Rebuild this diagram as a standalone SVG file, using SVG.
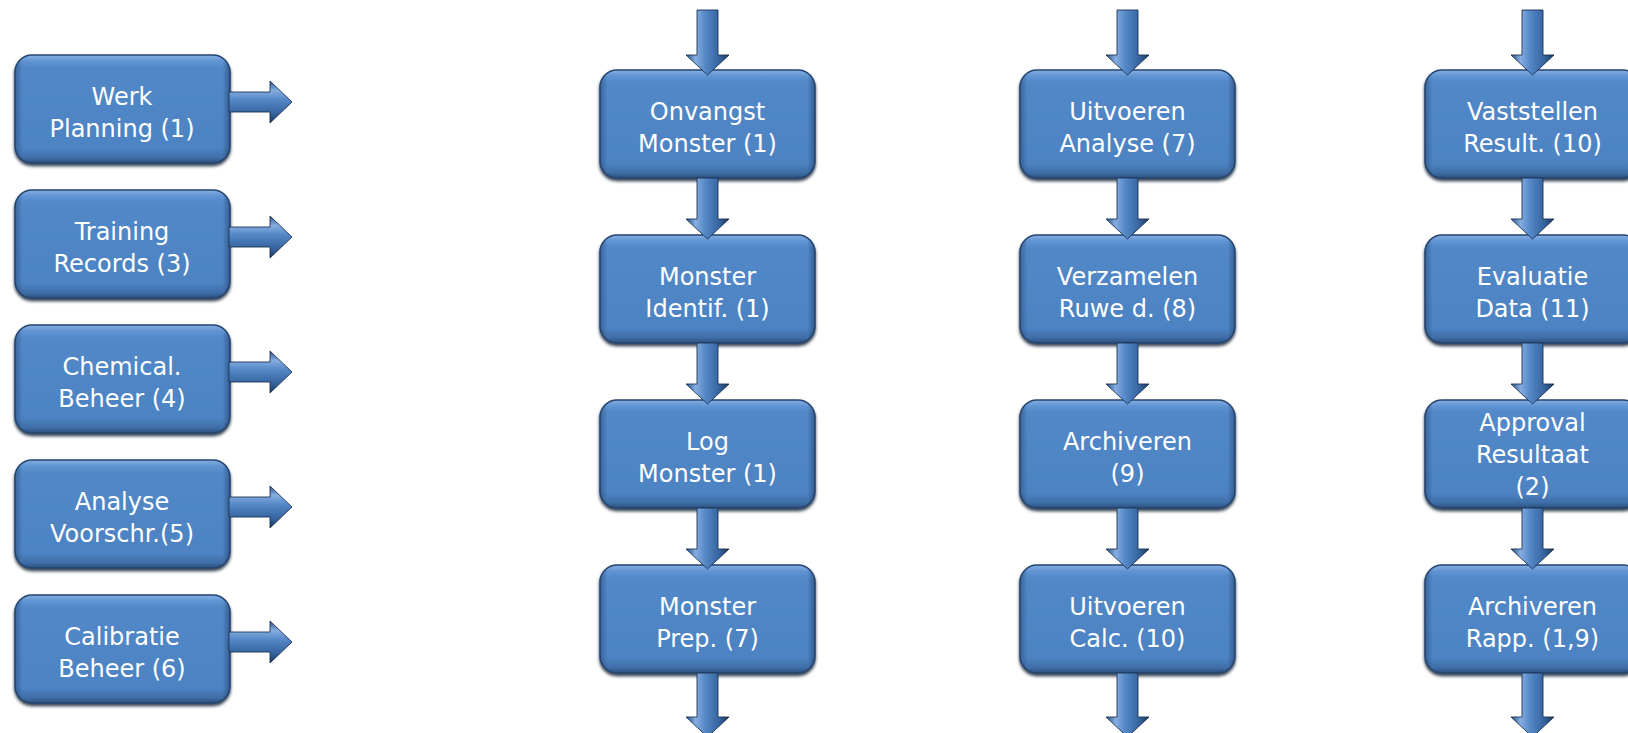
<svg xmlns="http://www.w3.org/2000/svg" width="1628" height="733" viewBox="0 0 1628 733">
<defs>
<linearGradient id="boxV" x1="0" y1="0" x2="0" y2="1">
<stop offset="0" stop-color="#86aee2"/>
<stop offset="0.06" stop-color="#5f93d2"/>
<stop offset="0.12" stop-color="#5288c8"/>
<stop offset="0.86" stop-color="#4d83c3"/>
<stop offset="0.95" stop-color="#3f6ea8"/>
<stop offset="1" stop-color="#2b4f7e"/>
</linearGradient>
<linearGradient id="boxH" x1="0" y1="0" x2="1" y2="0">
<stop offset="0" stop-color="#1d3b63" stop-opacity="0.45"/>
<stop offset="0.035" stop-color="#1d3b63" stop-opacity="0"/>
<stop offset="0.965" stop-color="#1d3b63" stop-opacity="0"/>
<stop offset="1" stop-color="#1d3b63" stop-opacity="0.55"/>
</linearGradient>
<linearGradient id="arrV" x1="0" y1="0" x2="1" y2="0">
<stop offset="0" stop-color="#2a5186"/>
<stop offset="0.22" stop-color="#86ade0"/>
<stop offset="0.45" stop-color="#5487c6"/>
<stop offset="0.78" stop-color="#35639e"/>
<stop offset="1" stop-color="#1c3659"/>
</linearGradient>
<linearGradient id="arrH" x1="0" y1="0" x2="0" y2="1">
<stop offset="0" stop-color="#2a5186"/>
<stop offset="0.22" stop-color="#86ade0"/>
<stop offset="0.45" stop-color="#5487c6"/>
<stop offset="0.78" stop-color="#35639e"/>
<stop offset="1" stop-color="#1c3659"/>
</linearGradient>
<filter id="sh" x="-10%" y="-10%" width="120%" height="130%">
<feDropShadow dx="0" dy="2.5" stdDeviation="1.6" flood-color="#0a1c33" flood-opacity="0.85"/>
</filter>
</defs>
<style>
.bx{fill:url(#boxV);stroke:#27466f;stroke-width:1.5;filter:url(#sh)}
.bo{fill:url(#boxH);stroke:none}
.t{font-family:"DejaVu Sans","Liberation Sans",sans-serif;font-size:24px;fill:#ffffff;text-anchor:middle}
.av{fill:url(#arrV);stroke:#1a3354;stroke-width:0.9}
.ah{fill:url(#arrH);stroke:#1a3354;stroke-width:0.9}
</style>

<g id="nodes">
<g id="n-werk"><rect class="bx" x="15" y="55" width="215" height="108" rx="17"/><rect class="bo" x="15" y="55" width="215" height="108" rx="17"/><text class="t" x="122" y="105">Werk</text><text class="t" x="122" y="137">Planning (1)</text></g>
<g id="n-training"><rect class="bx" x="15" y="190" width="215" height="108" rx="17"/><rect class="bo" x="15" y="190" width="215" height="108" rx="17"/><text class="t" x="122" y="240">Training</text><text class="t" x="122" y="272">Records (3)</text></g>
<g id="n-chemical"><rect class="bx" x="15" y="325" width="215" height="108" rx="17"/><rect class="bo" x="15" y="325" width="215" height="108" rx="17"/><text class="t" x="122" y="375">Chemical.</text><text class="t" x="122" y="407">Beheer (4)</text></g>
<g id="n-analyse"><rect class="bx" x="15" y="460" width="215" height="108" rx="17"/><rect class="bo" x="15" y="460" width="215" height="108" rx="17"/><text class="t" x="122" y="510">Analyse</text><text class="t" x="122" y="542">Voorschr.(5)</text></g>
<g id="n-calibratie"><rect class="bx" x="15" y="595" width="215" height="108" rx="17"/><rect class="bo" x="15" y="595" width="215" height="108" rx="17"/><text class="t" x="122" y="645">Calibratie</text><text class="t" x="122" y="677">Beheer (6)</text></g>

<g id="n-onvangst"><rect class="bx" x="600" y="70" width="215" height="108" rx="17"/><rect class="bo" x="600" y="70" width="215" height="108" rx="17"/><text class="t" x="707.5" y="120">Onvangst</text><text class="t" x="707.5" y="152">Monster (1)</text></g>
<g id="n-identif"><rect class="bx" x="600" y="235" width="215" height="108" rx="17"/><rect class="bo" x="600" y="235" width="215" height="108" rx="17"/><text class="t" x="707.5" y="285">Monster</text><text class="t" x="707.5" y="317">Identif. (1)</text></g>
<g id="n-log"><rect class="bx" x="600" y="400" width="215" height="108" rx="17"/><rect class="bo" x="600" y="400" width="215" height="108" rx="17"/><text class="t" x="707.5" y="450">Log</text><text class="t" x="707.5" y="482">Monster (1)</text></g>
<g id="n-prep"><rect class="bx" x="600" y="565" width="215" height="108" rx="17"/><rect class="bo" x="600" y="565" width="215" height="108" rx="17"/><text class="t" x="707.5" y="615">Monster</text><text class="t" x="707.5" y="647">Prep. (7)</text></g>

<g id="n-uitvoeren-analyse"><rect class="bx" x="1020" y="70" width="215" height="108" rx="17"/><rect class="bo" x="1020" y="70" width="215" height="108" rx="17"/><text class="t" x="1127.5" y="120">Uitvoeren</text><text class="t" x="1127.5" y="152">Analyse (7)</text></g>
<g id="n-verzamelen"><rect class="bx" x="1020" y="235" width="215" height="108" rx="17"/><rect class="bo" x="1020" y="235" width="215" height="108" rx="17"/><text class="t" x="1127.5" y="285">Verzamelen</text><text class="t" x="1127.5" y="317">Ruwe d. (8)</text></g>
<g id="n-archiveren"><rect class="bx" x="1020" y="400" width="215" height="108" rx="17"/><rect class="bo" x="1020" y="400" width="215" height="108" rx="17"/><text class="t" x="1127.5" y="450">Archiveren</text><text class="t" x="1127.5" y="482">(9)</text></g>
<g id="n-calc"><rect class="bx" x="1020" y="565" width="215" height="108" rx="17"/><rect class="bo" x="1020" y="565" width="215" height="108" rx="17"/><text class="t" x="1127.5" y="615">Uitvoeren</text><text class="t" x="1127.5" y="647">Calc. (10)</text></g>

<g id="n-vaststellen"><rect class="bx" x="1425" y="70" width="215" height="108" rx="17"/><rect class="bo" x="1425" y="70" width="215" height="108" rx="17"/><text class="t" x="1532.5" y="120">Vaststellen</text><text class="t" x="1532.5" y="152">Result. (10)</text></g>
<g id="n-evaluatie"><rect class="bx" x="1425" y="235" width="215" height="108" rx="17"/><rect class="bo" x="1425" y="235" width="215" height="108" rx="17"/><text class="t" x="1532.5" y="285">Evaluatie</text><text class="t" x="1532.5" y="317">Data (11)</text></g>
<g id="n-approval"><rect class="bx" x="1425" y="400" width="215" height="108" rx="17"/><rect class="bo" x="1425" y="400" width="215" height="108" rx="17"/><text class="t" x="1532.5" y="431">Approval</text><text class="t" x="1532.5" y="463">Resultaat</text><text class="t" x="1532.5" y="495">(2)</text></g>
<g id="n-archiveren-rapp"><rect class="bx" x="1425" y="565" width="215" height="108" rx="17"/><rect class="bo" x="1425" y="565" width="215" height="108" rx="17"/><text class="t" x="1532.5" y="615">Archiveren</text><text class="t" x="1532.5" y="647">Rapp. (1,9)</text></g>
</g>

<g id="connectors">
<polygon class="ah" points="229,92 270,92 270,81 292,102 270,123 270,112 229,112"/>
<polygon class="ah" points="229,227 270,227 270,216 292,237 270,258 270,247 229,247"/>
<polygon class="ah" points="229,362 270,362 270,351 292,372 270,393 270,382 229,382"/>
<polygon class="ah" points="229,497 270,497 270,486 292,507 270,528 270,517 229,517"/>
<polygon class="ah" points="229,632 270,632 270,621 292,642 270,663 270,652 229,652"/>

<polygon class="av" points="697,10 718,10 718,55 729,55 707.5,75 686,55 697,55"/>
<polygon class="av" points="697,178 718,178 718,219 729,219 707.5,239 686,219 697,219"/>
<polygon class="av" points="697,343 718,343 718,384 729,384 707.5,404 686,384 697,384"/>
<polygon class="av" points="697,508 718,508 718,549 729,549 707.5,569 686,549 697,549"/>
<polygon class="av" points="697,673 718,673 718,717 729,717 707.5,737 686,717 697,717"/>

<polygon class="av" points="1117,10 1138,10 1138,55 1149,55 1127.5,75 1106,55 1117,55"/>
<polygon class="av" points="1117,178 1138,178 1138,219 1149,219 1127.5,239 1106,219 1117,219"/>
<polygon class="av" points="1117,343 1138,343 1138,384 1149,384 1127.5,404 1106,384 1117,384"/>
<polygon class="av" points="1117,508 1138,508 1138,549 1149,549 1127.5,569 1106,549 1117,549"/>
<polygon class="av" points="1117,673 1138,673 1138,717 1149,717 1127.5,737 1106,717 1117,717"/>

<polygon class="av" points="1522,10 1543,10 1543,55 1554,55 1532.5,75 1511,55 1522,55"/>
<polygon class="av" points="1522,178 1543,178 1543,219 1554,219 1532.5,239 1511,219 1522,219"/>
<polygon class="av" points="1522,343 1543,343 1543,384 1554,384 1532.5,404 1511,384 1522,384"/>
<polygon class="av" points="1522,508 1543,508 1543,549 1554,549 1532.5,569 1511,549 1522,549"/>
<polygon class="av" points="1522,673 1543,673 1543,717 1554,717 1532.5,737 1511,717 1522,717"/>
</g>
</svg>
